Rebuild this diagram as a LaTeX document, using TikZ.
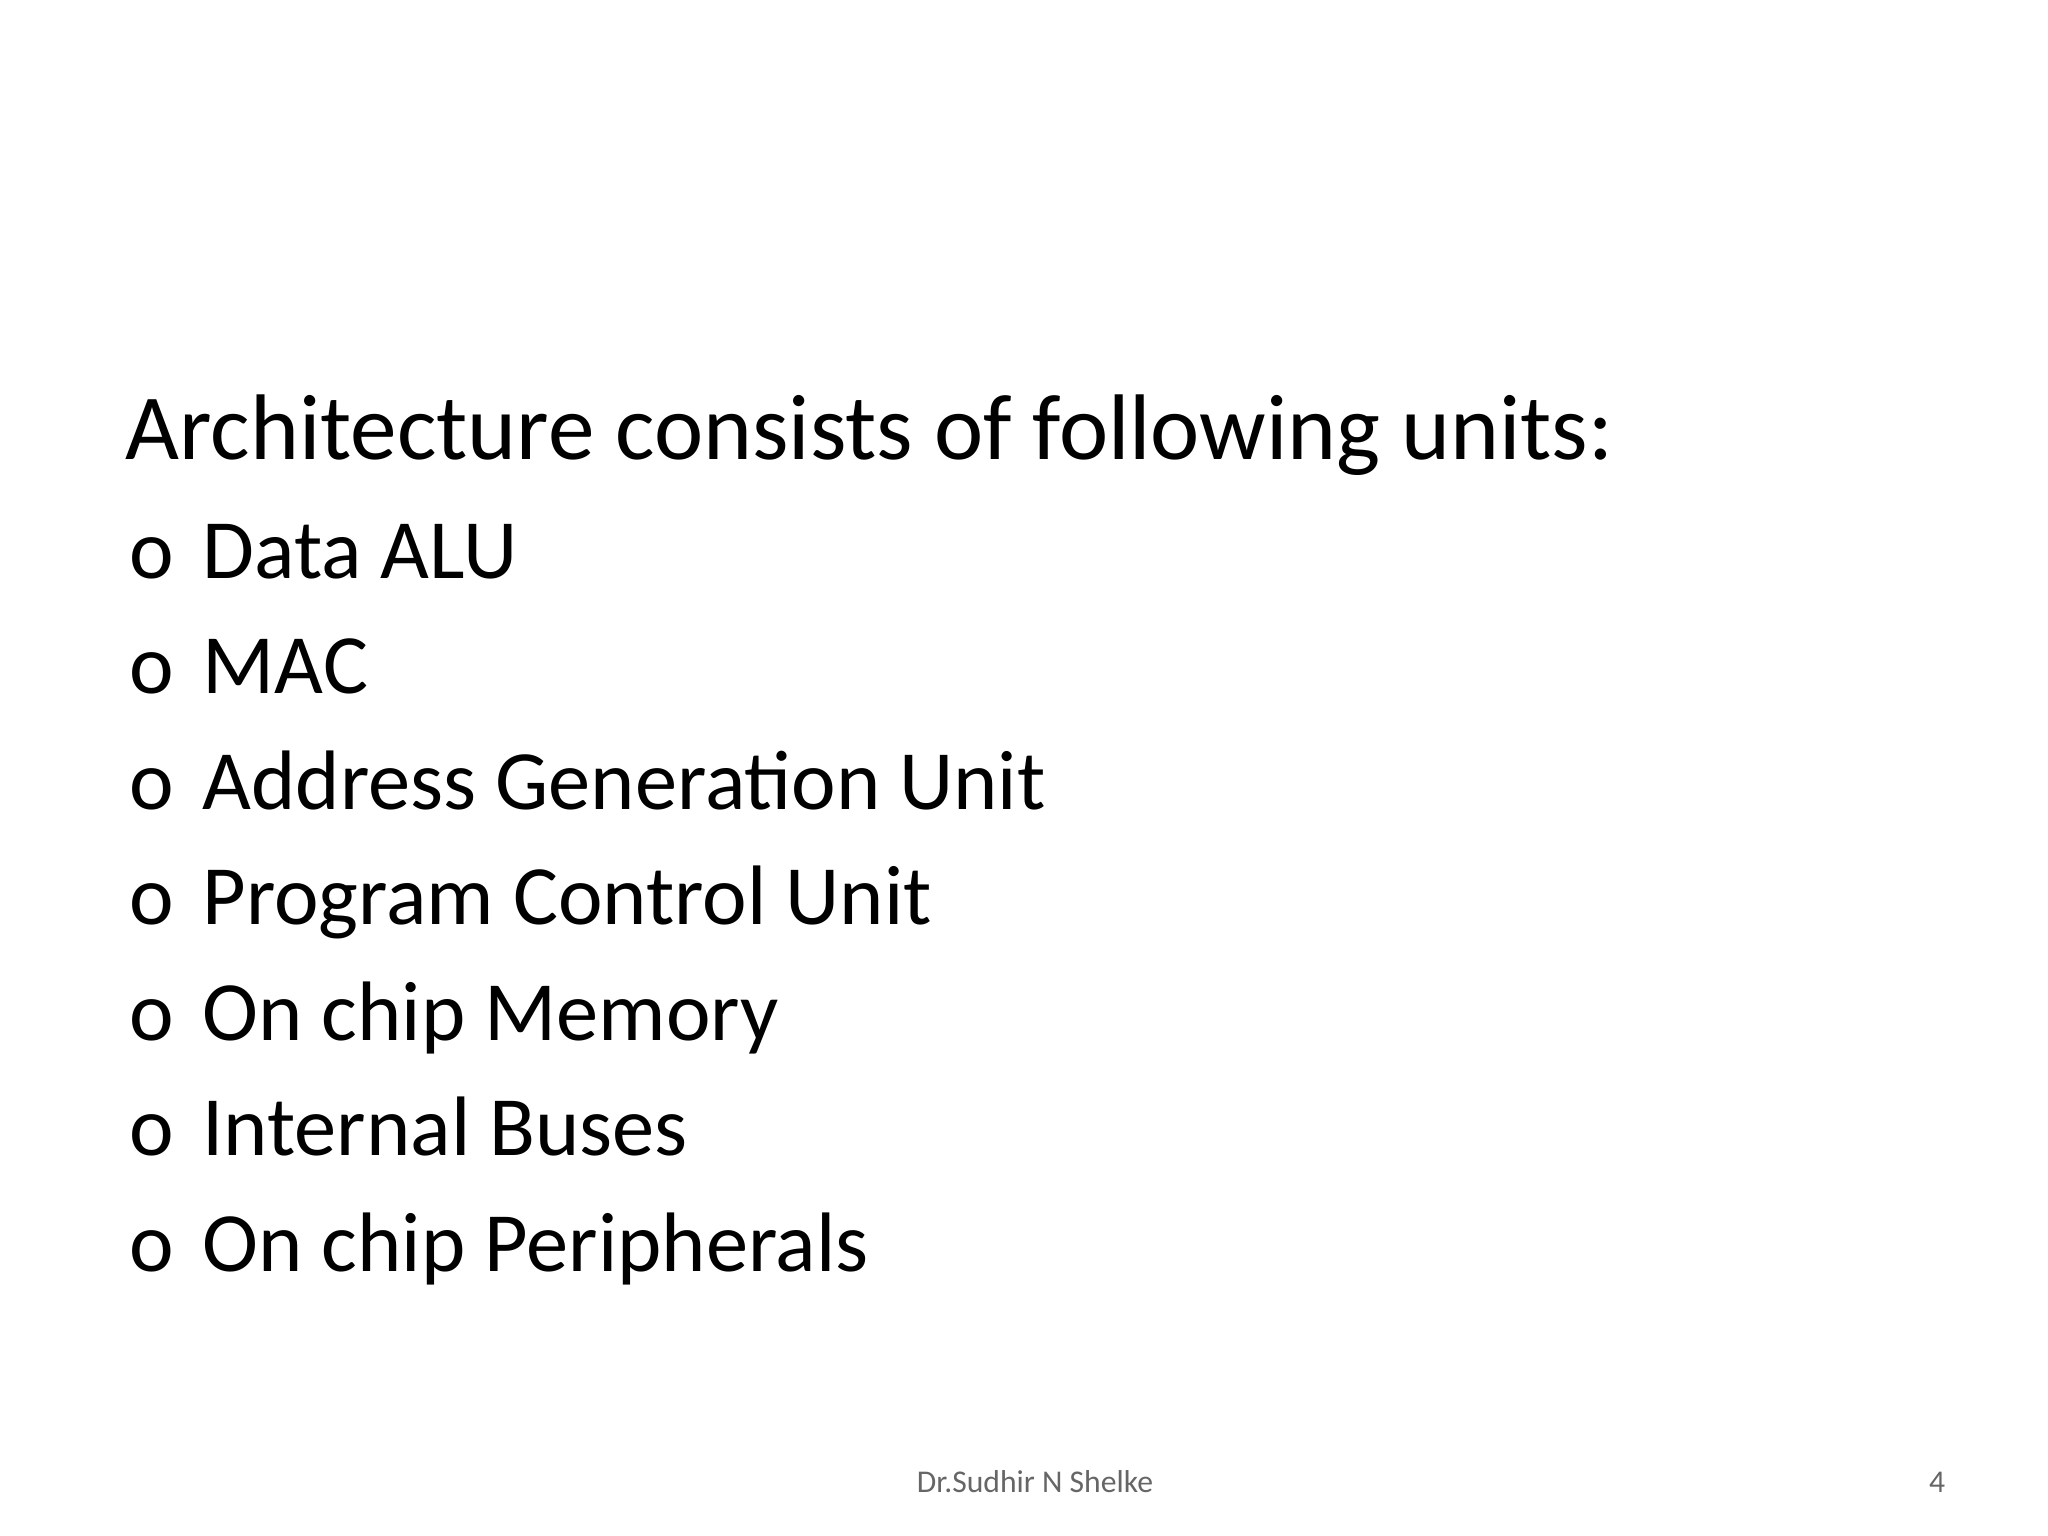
\documentclass[tikz,border=0pt]{standalone}
\usepackage{fontspec}
\setmainfont{Carlito}
\begin{document}
\begin{tikzpicture}[x=0.01cm,y=-0.01cm,
  tt/.style={anchor=base west,inner sep=0pt,font=\fontsize{26.5}{30}\selectfont},
  bl/.style={anchor=base west,inner sep=0pt,font=\fontsize{24}{28}\selectfont},
  ft/.style={anchor=base,inner sep=0pt,font=\fontsize{9}{11}\selectfont,text=black!60}]
\useasboundingbox (0,0) rectangle (2048,1536);
\node[tt] (title) at (125,459) {Architecture consists of following units:};
\foreach \t [count=\i] in {Data ALU,MAC,Address Generation Unit,Program Control Unit,On chip Memory,Internal Buses,On chip Peripherals}{
  \pgfmathsetmacro{\yy}{578+115.5*(\i-1)}
  \node[bl] (o\i) at (129,\yy) {o};
  \node[bl] (b\i) at (202,\yy) {\t};
}
\node[ft] (foot) at (1035,1492) {Dr.Sudhir N Shelke};
\node[ft] (num) at (1937,1492) {4};
\end{tikzpicture}
\end{document}
